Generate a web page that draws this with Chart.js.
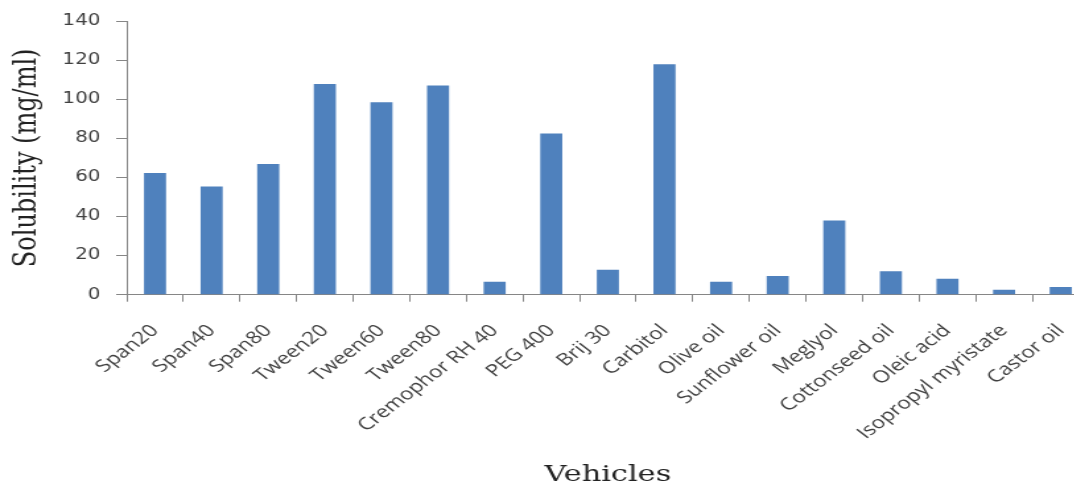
<!DOCTYPE html>
<html><head><meta charset="utf-8">
<script src="https://cdn.jsdelivr.net/npm/chart.js@4"></script>
<style>
html,body{margin:0;padding:0;background:#fff;overflow:hidden;width:1074px;height:489px;}
#wrap{position:absolute;left:0;top:0;width:830px;height:489px;transform:scaleX(1.32);transform-origin:0 0;}
</style></head><body>
<div id="wrap"><canvas id="c"></canvas></div>
<script>
const categories = ["Span20","Span40","Span80","Tween20","Tween60","Tween80","Cremophor RH 40","PEG 400","Brij 30","Carbitol","Olive oil","Sunflower oil","Meglyol","Cottonseed oil","Oleic acid","Isopropyl myristate","Castor oil"];
const solubility = [62.2, 55.3, 66.9, 107.8, 98.4, 107.0, 6.6, 82.4, 12.8, 117.9, 6.6, 9.6, 37.9, 12.0, 8.1, 2.5, 4.0];
const yTicks = [0, 20, 40, 60, 80, 100, 120, 140];
const yTitle = "Solubility (mg/ml)";
const xTitle = "Vehicles";

const axisColor = '#868686';
new Chart(document.getElementById('c'), {
  type: 'bar',
  data: {
    labels: categories,
    datasets: [{
      data: solubility,
      backgroundColor: '#4F81BD',
      borderWidth: 0,
      barPercentage: 0.39,
      categoryPercentage: 1
    }]
  },
  options: {
    responsive: true,
    maintainAspectRatio: false,
    animation: false,
    devicePixelRatio: 1,
    layout: { padding: { top: 18, right: 5, bottom: 0, left: 0 } },
    plugins: { legend: { display: false }, tooltip: { enabled: false } },
    scales: {
      x: {
        grid: { offset: true, drawOnChartArea: false, tickLength: 7, color: axisColor },
        border: { color: axisColor, width: 1 },
        ticks: {
          autoSkip: false, minRotation: 45, maxRotation: 45, padding: 19,
          color: '#404040', font: { family: 'Open Sans', size: 17 }
        },
        title: { display: true, text: xTitle, color: '#222', padding: { top: 4, bottom: 0 },
          font: { family: 'DejaVu Serif', size: 23 } },
        afterFit: (s) => { s.height = 489 - 294.7; s.paddingRight = 0; s.paddingLeft = 0; }
      },
      y: {
        min: 0, max: 140,
        afterBuildTicks: (s) => { s.ticks = yTicks.map(v => ({ value: v })); },
        grid: { drawOnChartArea: false, tickLength: 8, color: axisColor },
        border: { color: axisColor, width: 1 },
        ticks: { padding: 12, color: '#404040', font: { family: 'DejaVu Sans', size: 15 } },
        title: { display: true, text: yTitle, color: '#222', padding: { top: 6, bottom: 0 },
          font: { family: 'DejaVu Serif', size: 24 } },
        afterFit: (s) => { s.width = 96; }
      }
    }
  }
});
</script>
</body></html>
